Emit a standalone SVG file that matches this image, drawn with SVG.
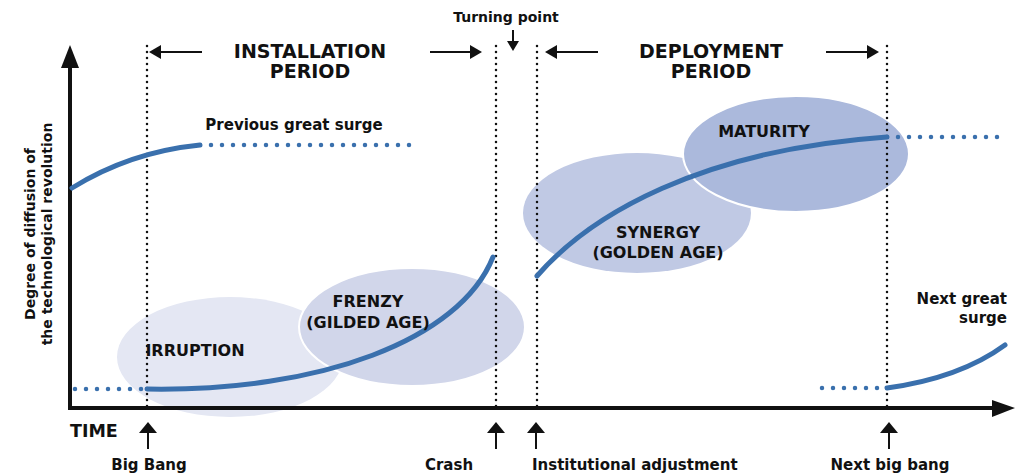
<svg xmlns="http://www.w3.org/2000/svg" width="1022" height="476" viewBox="0 0 1022 476">
<style>
text{font-family:"DejaVu Sans","Liberation Sans",sans-serif;font-weight:bold;fill:#111}
.h{font-size:19px}
.p{font-size:16px}
.l{font-size:15px}
.y{font-size:14px}
.vdot{stroke:#111;stroke-width:2.5;stroke-linecap:round;stroke-dasharray:0 6;fill:none}
.bdot{stroke:#3a70ad;stroke-width:4.5;stroke-linecap:round;stroke-dasharray:0 11;fill:none}
.curve{stroke:#3a70ad;stroke-width:5;stroke-linecap:round;fill:none}
.ax{stroke:#111;stroke-width:4;fill:none}
.ln{stroke:#111;stroke-width:2;fill:none}
</style>
<g id="phases">
<ellipse id="irruption-bg" cx="230" cy="357" rx="113" ry="60" fill="#e4e7f3"/>
<ellipse id="frenzy-bg" cx="412" cy="327" rx="113" ry="59" fill="#d1d6ea" stroke="#fff" stroke-width="2"/>
<ellipse id="synergy-bg" cx="637" cy="213" rx="114" ry="60" fill="#c0c9e4"/>
<ellipse id="maturity-bg" cx="796" cy="154" rx="113" ry="58" fill="#abb9dc" stroke="#fff" stroke-width="2"/>
</g>
<g id="guides">
<line class="vdot" x1="147" y1="46" x2="147" y2="410"/>
<line class="vdot" x1="496" y1="46" x2="496" y2="410"/>
<line class="vdot" x1="537" y1="46" x2="537" y2="410"/>
<line class="vdot" x1="887" y1="46" x2="887" y2="410"/>
</g>
<g id="axes">
<line class="ax" x1="70" y1="410" x2="70" y2="66"/>
<polygon points="61,68 79,68 70,45" fill="#111"/>
<line class="ax" x1="68" y1="408" x2="994" y2="408"/>
<polygon points="992,400 992,417 1015,408" fill="#111"/>
<text x="70" y="437" style="font-size:17.5px">TIME</text>
<text transform="rotate(-90)" x="-234" y="35" text-anchor="middle" class="y">Degree of diffusion of</text>
<text transform="rotate(-90)" x="-234" y="52" text-anchor="middle" class="y">the technological revolution</text>
</g>
<g id="connectors">
<path class="curve" d="M72,188 Q130,152 200,145"/>
<line class="bdot" x1="211" y1="145" x2="413" y2="145"/>
<line class="bdot" x1="75" y1="389" x2="142" y2="389"/>
<path class="curve" d="M147,389 C320,392 460,340 493,257"/>
<path class="curve" d="M537,276 C590,215 700,150 887,137"/>
<line class="bdot" x1="898" y1="137" x2="1008" y2="137"/>
<line class="bdot" x1="822" y1="388" x2="880" y2="388"/>
<path class="curve" d="M887,388 Q960,378 1005,345"/>
</g>
<g id="installation-period">
<line class="ln" x1="158" y1="52" x2="202" y2="52"/>
<polygon points="149,52 161,45 161,59" fill="#111"/>
<line class="ln" x1="430" y1="52" x2="472" y2="52"/>
<polygon points="482,52 470,45 470,59" fill="#111"/>
<text class="h" x="310" y="58" text-anchor="middle">INSTALLATION</text>
<text class="h" x="310" y="78" text-anchor="middle">PERIOD</text>
</g>
<g id="deployment-period">
<line class="ln" x1="555" y1="52" x2="598" y2="52"/>
<polygon points="545,52 557,45 557,59" fill="#111"/>
<line class="ln" x1="826" y1="52" x2="869" y2="52"/>
<polygon points="879,52 867,45 867,59" fill="#111"/>
<text class="h" x="711" y="58" text-anchor="middle">DEPLOYMENT</text>
<text class="h" x="711" y="78" text-anchor="middle">PERIOD</text>
</g>
<g id="turning-point">
<text class="l" x="506" y="22" text-anchor="middle" style="font-size:14px">Turning point</text>
<line class="ln" x1="513" y1="30" x2="513" y2="42"/>
<polygon points="507,41 519,41 513,51" fill="#111"/>
</g>
<g id="irruption"><text class="p" x="195" y="356" text-anchor="middle">IRRUPTION</text></g>
<g id="frenzy"><text class="p" x="368" y="307" text-anchor="middle">FRENZY</text><text class="p" x="368" y="328" text-anchor="middle">(GILDED AGE)</text></g>
<g id="synergy"><text class="p" x="658" y="238" text-anchor="middle">SYNERGY</text><text class="p" x="658" y="258" text-anchor="middle">(GOLDEN AGE)</text></g>
<g id="maturity"><text class="p" x="764" y="137" text-anchor="middle">MATURITY</text></g>
<g id="previous-surge"><text class="l" x="294" y="130" text-anchor="middle">Previous great surge</text></g>
<g id="next-surge"><text class="l" x="1007" y="304" text-anchor="end">Next great</text><text class="l" x="1007" y="323" text-anchor="end">surge</text></g>
<g id="big-bang">
<line class="ln" x1="148" y1="449" x2="148" y2="430"/>
<polygon points="139,433 157,433 148,422" fill="#111"/>
<text class="l" x="149" y="470" text-anchor="middle">Big Bang</text>
</g>
<g id="crash">
<line class="ln" x1="496" y1="449" x2="496" y2="430"/>
<polygon points="487,433 505,433 496,422" fill="#111"/>
<text class="l" x="449" y="470" text-anchor="middle">Crash</text>
</g>
<g id="institutional-adjustment">
<line class="ln" x1="536" y1="449" x2="536" y2="430"/>
<polygon points="527,433 545,433 536,422" fill="#111"/>
<text class="l" x="532" y="470">Institutional adjustment</text>
</g>
<g id="next-big-bang">
<line class="ln" x1="889" y1="449" x2="889" y2="430"/>
<polygon points="880,433 898,433 889,422" fill="#111"/>
<text class="l" x="890" y="470" text-anchor="middle">Next big bang</text>
</g>
</svg>
